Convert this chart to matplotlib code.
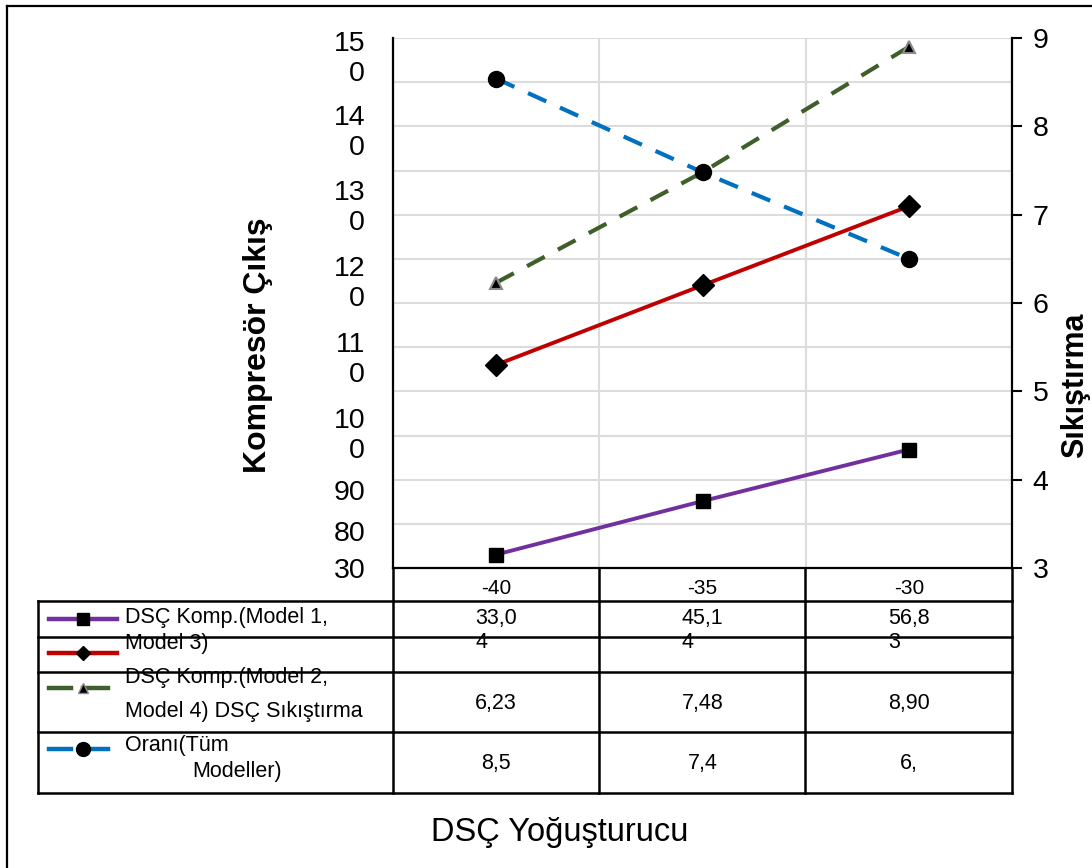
import matplotlib
matplotlib.use("Agg")
import matplotlib.pyplot as plt
import numpy as np
from matplotlib.lines import Line2D
from matplotlib.transforms import blended_transform_factory

plt.rcParams['font.family'] = ['Liberation Sans', 'DejaVu Sans']

# ---------------- data ----------------
categories = ['-40', '-35', '-30']
komp_model13 = [33.04, 45.14, 56.83]      # left axis (purple)
komp_model24 = [76.0, 94.0, 111.9]        # left axis (red)
sikistirma_model = [6.23, 7.48, 8.90]     # right axis (green)
sikistirma_tum = [8.54, 7.48, 6.50]       # right axis (blue)

left_tick_values = [146.3, 129.7, 112.7, 95.4, 78.2, 61.0, 47.6, 38.3, 30]
left_tick_labels = ['15\n0', '14\n0', '13\n0', '12\n0', '11\n0', '10\n0', '90', '80', '30']
right_ticks = [3, 4, 5, 6, 7, 8, 9]

table_row1 = ['33,04', '45,14', '56,83']
table_row3 = ['6,23', '7,48', '8,90']
table_row4 = ['8,5', '7,4', '6,']

legend_lines = ['DSÇ Komp.(Model 1,', 'Model 3)', 'DSÇ Komp.(Model 2,',
                'Model 4) DSÇ Sıkıştırma', 'Oranı(Tüm', 'Modeller)']

colors = {'purple': '#7030A0', 'red': '#C00000', 'green': '#3F5F2A', 'blue': '#0070C0'}

# ---------------- figure ----------------
W, H = 1092, 868
fig = plt.figure(figsize=(W / 100, H / 100), dpi=100)

def fx(x):
    return x / W

def fy(y):
    return 1 - y / H

ax = fig.add_axes([fx(393), fy(568), 619 / W, 530 / H])
ax.set_xlim(-0.5, 2.5)
ax.set_ylim(30, 150)
axr = ax.twinx()
axr.set_ylim(3, 9)

# gridlines
ax.set_yticks(np.arange(30, 151, 10), minor=True)
ax.set_xticks([0, 0.5, 1, 1.5, 2], minor=True)
ax.grid(which='minor', color='#dcdcdc', lw=1.5)
ax.set_axisbelow(True)
ax.tick_params(which='minor', length=0)

ax.set_yticks(left_tick_values)
ax.set_yticklabels(left_tick_labels)
ax.tick_params(axis='y', which='major', length=0, pad=20, labelsize=20.5)
ax.set_xticks([0, 1, 2])
ax.set_xticklabels(categories)
ax.tick_params(axis='x', which='major', length=0, pad=8, labelsize=15)

for s in ['top', 'right']:
    ax.spines[s].set_visible(False)
for s in ['left', 'bottom']:
    ax.spines[s].set_linewidth(1.6)
    ax.spines[s].set_color('black')
for s in ['top', 'left', 'bottom']:
    axr.spines[s].set_visible(False)
axr.spines['right'].set_linewidth(1.6)
axr.set_yticks(right_ticks)
axr.tick_params(axis='y', length=7, width=1.5, pad=8, labelsize=20.5)

x = np.arange(len(categories))
ax.plot(x, komp_model13, color=colors['purple'], lw=2.8, marker='s', ms=10,
        mfc='black', mec='black', clip_on=False, zorder=3)
ax.plot(x, komp_model24, color=colors['red'], lw=2.8, marker='D', ms=11,
        mfc='black', mec='black', clip_on=False, zorder=3)
axr.plot(x, sikistirma_model, color=colors['green'], lw=3, dashes=(4.8, 3.6),
         marker='^', ms=9, mfc='black', mec='#8c8c8c', mew=1.5, clip_on=False)
axr.plot(x, sikistirma_tum, color=colors['blue'], lw=3, dashes=(4.8, 3.6),
         marker='o', ms=11.5, mfc='black', mec='black', clip_on=False)

# axis titles
fig.text(fx(258), fy(345), 'Kompresör Çıkış', rotation=90, fontweight='bold',
         fontsize=23, ha='center', va='center')
fig.text(fx(1075), fy(385), 'Sıkıştırma', rotation=90, fontweight='bold',
         fontsize=22, ha='center', va='center')
fig.text(fx(560), fy(832), 'DSÇ Yoğuşturucu', fontsize=23.5, ha='center', va='center')

# ---------------- data table ----------------
def fline(xs, ys, **kw):
    fig.add_artist(Line2D([fx(v) for v in xs], [fy(v) for v in ys],
                          transform=fig.transFigure, **kw))

tl = dict(color='black', lw=1.8)
for yy in [601, 637, 672, 732, 793]:
    fline([38, 1012], [yy, yy], **tl)
fline([38, 38], [601, 793], **tl)
for xx in [393, 599, 805, 1012]:
    fline([xx, xx], [568, 793], **tl)

# figure frame
fline([7, 7], [6, 868], color='black', lw=1.6)
fline([7, 1092], [6, 6], color='black', lw=1.6)

bt = blended_transform_factory(ax.transData, fig.transFigure)
for i in range(len(categories)):
    v = table_row1[i]
    fig.text(i, fy(630.5), v[:4] + '\n' + v[4:], transform=bt, fontsize=15.5,
             ha='center', va='center', multialignment='left', linespacing=1.2)
    fig.text(i, fy(703), table_row3[i], transform=bt, fontsize=15.5,
             ha='center', va='center')
    fig.text(i, fy(764), table_row4[i], transform=bt, fontsize=15.5,
             ha='center', va='center')

# legend keys
key_rows = [(619, 'purple', 's', 8, '-'), (653, 'red', 'D', 7, '-'),
            (688, 'green', '^', 7, '--'), (749, 'blue', 'o', 10, '--')]
for yy, c, m, ms, ls in key_rows:
    if ls == '-':
        fline([49, 117], [yy, yy], color=colors[c], lw=3.2)
    else:
        fline([49, 71], [yy, yy], color=colors[c], lw=3.2)
        fline([83, 108], [yy, yy], color=colors[c], lw=3.2)
    mec = '#8c8c8c' if m == '^' else 'black'
    fline([83], [yy], color=colors[c], marker=m, ms=ms, mfc='black', mec=mec, lw=0)

leg_pos = [(125, 617), (125, 643), (125, 677), (125, 711), (125, 746), (192, 771)]
for (xx, yy), t in zip(leg_pos, legend_lines):
    fig.text(fx(xx), fy(yy), t, fontsize=15.5, ha='left', va='center')

fig.savefig('out.png', dpi=100)
